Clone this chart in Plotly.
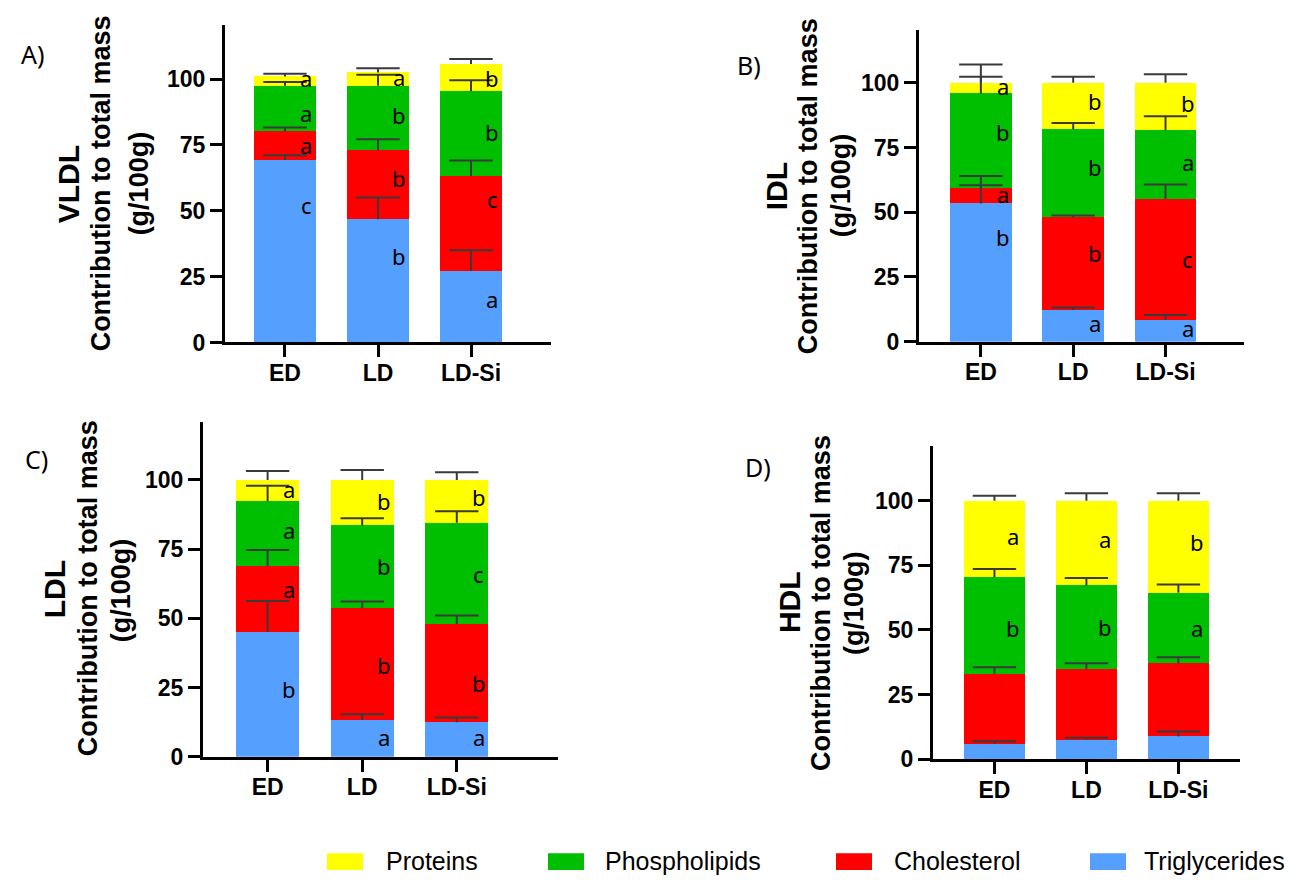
import plotly.graph_objects as go

W, H = 1295, 880

categories = ["ED", "LD", "LD-Si"]
components = ["Triglycerides", "Cholesterol", "Phospholipids", "Proteins"]
colors = {"Triglycerides": "#559FFF", "Cholesterol": "#FF0000",
          "Phospholipids": "#00BF00", "Proteins": "#FFFF00"}
legend_order = ["Proteins", "Phospholipids", "Cholesterol", "Triglycerides"]
y_ticks = [0, 25, 50, 75, 100]

# ---- VLDL ----
vldl_tg = [69.3, 46.8, 27.2]
vldl_chol = [10.8, 26.2, 35.9]
vldl_pl = [17.3, 24.4, 32.3]
vldl_prot = [3.6, 5.1, 10.3]
vldl_tg_err = [1.8, 8.2, 7.8]
vldl_chol_err = [1.5, 4.1, 6.0]
vldl_pl_err = [1.5, 4.2, 4.1]
vldl_prot_err = [1.0, 1.6, 1.9]
vldl_tg_let = ["c", "b", "a"]
vldl_chol_let = ["a", "b", "c"]
vldl_pl_let = ["a", "b", "b"]
vldl_prot_let = ["a", "a", "b"]
vldl_tg_let_y = [52.1, 32.8, 16.6]
vldl_chol_let_y = [74.8, 62.4, 54.4]
vldl_pl_let_y = [87.0, 86.4, 79.8]
vldl_prot_let_y = [100.5, 100.7, 100.5]

# ---- IDL ----
idl_tg = [53.4, 12.2, 8.4]
idl_chol = [5.8, 35.8, 46.7]
idl_pl = [36.7, 34.0, 26.6]
idl_prot = [4.1, 18.0, 18.3]
idl_tg_err = [7.0, 1.0, 1.9]
idl_chol_err = [4.8, 0.7, 5.6]
idl_pl_err = [6.4, 2.5, 5.4]
idl_prot_err = [7.1, 2.3, 3.3]
idl_tg_let = ["b", "a", "a"]
idl_chol_let = ["a", "b", "c"]
idl_pl_let = ["b", "b", "a"]
idl_prot_let = ["a", "b", "b"]
idl_tg_let_y = [40.4, 7.4, 5.2]
idl_chol_let_y = [56.9, 34.1, 31.9]
idl_pl_let_y = [81.0, 67.4, 69.5]
idl_prot_let_y = [98.9, 92.8, 92.1]

# ---- LDL ----
ldl_tg = [45.1, 13.3, 12.5]
ldl_chol = [23.7, 40.3, 35.5]
ldl_pl = [23.5, 30.0, 36.5]
ldl_prot = [7.7, 16.4, 15.5]
ldl_tg_err = [11.2, 2.1, 1.7]
ldl_chol_err = [5.9, 2.5, 3.0]
ldl_pl_err = [5.6, 2.6, 4.2]
ldl_prot_err = [3.2, 3.6, 2.8]
ldl_tg_let = ["b", "a", "a"]
ldl_chol_let = ["a", "b", "b"]
ldl_pl_let = ["a", "b", "c"]
ldl_prot_let = ["a", "b", "b"]
ldl_tg_let_y = [24.3, 7.1, 7.1]
ldl_chol_let_y = [60.5, 33.2, 26.7]
ldl_pl_let_y = [81.9, 68.8, 66.2]
ldl_prot_let_y = [96.7, 92.3, 93.7]

# ---- HDL ----
hdl_tg = [5.9, 7.5, 8.8]
hdl_chol = [27.1, 27.4, 28.3]
hdl_pl = [37.4, 32.3, 27.3]
hdl_prot = [29.6, 32.8, 35.6]
hdl_tg_err = [1.0, 0.7, 1.9]
hdl_chol_err = [2.5, 2.2, 2.3]
hdl_pl_err = [3.2, 2.9, 3.2]
hdl_prot_err = [1.9, 2.9, 2.9]
hdl_tg_let = ["", "", ""]
hdl_chol_let = ["", "", ""]
hdl_pl_let = ["b", "b", "a"]
hdl_prot_let = ["a", "a", "b"]
hdl_tg_let_y = [0, 0, 0]
hdl_chol_let_y = [0, 0, 0]
hdl_pl_let_y = [50.7, 51.1, 50.7]
hdl_prot_let_y = [86.3, 85.0, 84.1]

panels = [
    dict(name="VLDL", tag="A)",
         vals=[vldl_tg, vldl_chol, vldl_pl, vldl_prot],
         errs=[vldl_tg_err, vldl_chol_err, vldl_pl_err, vldl_prot_err],
         lets=[vldl_tg_let, vldl_chol_let, vldl_pl_let, vldl_prot_let],
         lety=[vldl_tg_let_y, vldl_chol_let_y, vldl_pl_let_y, vldl_prot_let_y],
         px=(217, 543), py=(17, 339.5), yr=120.6, xr=(-0.645, 2.86), loff=0.23,
         t1=(60, 179), t2=(93, 178), t3=(131, 178), tagpos=(24, 47)),
    dict(name="IDL", tag="B)",
         vals=[idl_tg, idl_chol, idl_pl, idl_prot],
         errs=[idl_tg_err, idl_chol_err, idl_pl_err, idl_prot_err],
         lets=[idl_tg_let, idl_chol_let, idl_pl_let, idl_prot_let],
         lety=[idl_tg_let_y, idl_chol_let_y, idl_pl_let_y, idl_prot_let_y],
         px=(911, 1236), py=(22, 338.7), yr=120.5, xr=(-0.67, 2.85), loff=0.24,
         t1=(768, 181), t2=(800, 181), t3=(833, 180), tagpos=(741, 58)),
    dict(name="LDL", tag="C)",
         vals=[ldl_tg, ldl_chol, ldl_pl, ldl_prot],
         errs=[ldl_tg_err, ldl_chol_err, ldl_pl_err, ldl_prot_err],
         lets=[ldl_tg_let, ldl_chol_let, ldl_pl_let, ldl_prot_let],
         lety=[ldl_tg_let_y, ldl_chol_let_y, ldl_pl_let_y, ldl_prot_let_y],
         px=(195, 550), py=(420, 760), yr=121.0, xr=(-0.683, 3.07), loff=0.23,
         t1=(46, 590), t2=(80, 589), t3=(113, 591), tagpos=(28, 458)),
    dict(name="HDL", tag="D)",
         vals=[hdl_tg, hdl_chol, hdl_pl, hdl_prot],
         errs=[hdl_tg_err, hdl_chol_err, hdl_pl_err, hdl_prot_err],
         lets=[hdl_tg_let, hdl_chol_let, hdl_pl_let, hdl_prot_let],
         lety=[hdl_tg_let_y, hdl_chol_let_y, hdl_pl_let_y, hdl_prot_let_y],
         px=(925, 1232), py=(445, 762.3), yr=121.0, xr=(-0.668, 2.67), loff=0.2,
         t1=(781, 603), t2=(813, 604), t3=(846, 604), tagpos=(750, 466)),
]

AX_FONT = dict(family="Liberation Sans, Arial", size=23, color="black", weight="bold")
LET_FONT = dict(family="Noto Sans, Open Sans", size=22, color="black")
ERR_COLOR = "#3a3a3a"

fig = go.Figure()
layout = dict(width=W, height=H, autosize=False,
              margin=dict(l=0, r=0, t=0, b=0),
              paper_bgcolor="white", plot_bgcolor="white",
              barmode="stack", bargap=0.335, showlegend=False)
annotations = []
shapes = []


def px2x(x):
    return x / W


def px2y(y):
    return 1 - y / H


for i, p in enumerate(panels, start=1):
    xa = "x" if i == 1 else f"x{i}"
    ya = "y" if i == 1 else f"y{i}"
    xkey = "xaxis" if i == 1 else f"xaxis{i}"
    ykey = "yaxis" if i == 1 else f"yaxis{i}"
    cum = [0.0, 0.0, 0.0]
    for comp, v, e, lt, ly in zip(components, p["vals"], p["errs"], p["lets"], p["lety"]):
        fig.add_trace(go.Bar(x=categories, y=v, name=comp, xaxis=xa, yaxis=ya,
                             marker=dict(color=colors[comp], line=dict(width=0)),
                             showlegend=False, hoverinfo="skip"))
        cum = [c + vv for c, vv in zip(cum, v)]
        top = [c + ee for c, ee in zip(cum, e)]
        # upper-only error bar: stem via error_y (no caps), hat via a horizontal-line marker
        fig.add_trace(go.Scatter(x=categories, y=top, mode="markers", xaxis=xa, yaxis=ya,
                                 marker=dict(symbol="line-ew", size=31,
                                             line=dict(width=2, color=ERR_COLOR)),
                                 showlegend=False, hoverinfo="skip",
                                 error_y=dict(type="data", array=[0] * len(e), arrayminus=e,
                                              symmetric=False, color=ERR_COLOR,
                                              thickness=2, width=0)))
        for k, (txt, yy) in enumerate(zip(lt, ly)):
            if txt:
                annotations.append(dict(x=k + p["loff"], y=yy, xref=xa, yref=ya, text=txt,
                                        showarrow=False, font=LET_FONT,
                                        xanchor="center", yanchor="middle"))
    layout[xkey] = dict(domain=[px2x(p["px"][0]), px2x(p["px"][1])], anchor=ya,
                        type="category", range=list(p["xr"]), showline=True, linewidth=3,
                        linecolor="black", ticks="outside", ticklen=12, tickwidth=3,
                        tickcolor="black", showgrid=False, zeroline=False, tickfont=AX_FONT,
                        ticklabelstandoff=-4, fixedrange=True)
    layout[ykey] = dict(domain=[px2y(p["py"][1]), px2y(p["py"][0])], anchor=xa,
                        range=[0, p["yr"]], tickvals=y_ticks, showline=True, linewidth=3,
                        linecolor="black", ticks="outside", ticklen=12, tickwidth=3,
                        tickcolor="black", showgrid=False, zeroline=False, tickfont=AX_FONT,
                        fixedrange=True)
    # axis titles
    annotations.append(dict(x=px2x(p["t1"][0]), y=px2y(p["t1"][1]), xref="paper", yref="paper",
                            text=f"<b>{p['name']}</b>", textangle=-90, showarrow=False,
                            font=dict(family="Liberation Sans, Arial", size=30, color="black"),
                            xanchor="center", yanchor="middle"))
    annotations.append(dict(x=px2x(p["t2"][0]), y=px2y(p["t2"][1]), xref="paper", yref="paper",
                            text="<b>Contribution to total mass</b>", textangle=-90, showarrow=False,
                            font=dict(family="Liberation Sans, Arial", size=27, color="black"),
                            xanchor="center", yanchor="middle"))
    annotations.append(dict(x=px2x(p["t3"][0]), y=px2y(p["t3"][1]), xref="paper", yref="paper",
                            text="<b>(g/100g)</b>", textangle=-90, showarrow=False,
                            font=dict(family="Liberation Sans, Arial", size=27, color="black"),
                            xanchor="center", yanchor="middle"))
    annotations.append(dict(x=px2x(p["tagpos"][0]), y=px2y(p["tagpos"][1]), xref="paper", yref="paper",
                            text=p["tag"], showarrow=False,
                            font=dict(family="Noto Sans, Open Sans", size=25, color="black"),
                            xanchor="center", yanchor="middle"))

# custom legend at the bottom
leg_sq_x = [319, 540, 828, 1082]
leg_txt_x = [376, 595, 884, 1134]
for comp, sx, tx in zip(legend_order, leg_sq_x, leg_txt_x):
    shapes.append(dict(type="rect", xref="paper", yref="paper",
                       x0=px2x(sx), x1=px2x(sx + 36), y0=px2y(875), y1=px2y(858),
                       fillcolor=colors[comp], line=dict(width=0)))
    annotations.append(dict(x=px2x(tx), y=px2y(866), xref="paper", yref="paper",
                            text=comp, showarrow=False,
                            font=dict(family="Liberation Sans, Arial", size=25, color="black"),
                            xanchor="left", yanchor="middle"))

layout["annotations"] = annotations
layout["shapes"] = shapes
fig.update_layout(**layout)
fig.write_html("out.html")
